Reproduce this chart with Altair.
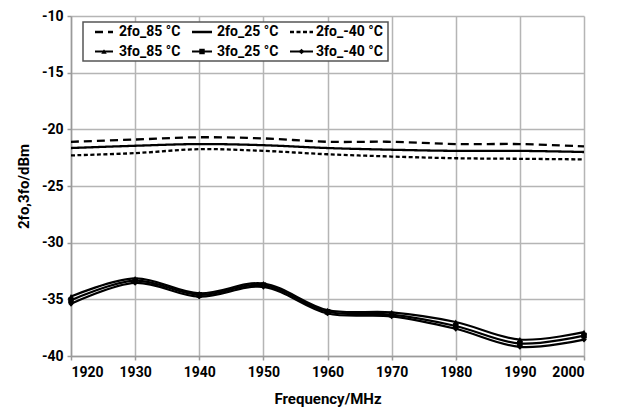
import altair as alt
import pandas as pd

freq = [1920, 1930, 1940, 1950, 1960, 1970, 1980, 1990, 2000]
s2_85 = [-21.1, -20.9, -20.7, -20.8, -21.1, -21.1, -21.3, -21.3, -21.5]
s2_25 = [-21.65, -21.45, -21.3, -21.4, -21.65, -21.8, -21.9, -21.9, -22.0]
s2_m40 = [-22.3, -22.1, -21.75, -21.9, -22.2, -22.4, -22.55, -22.6, -22.65]
s3_85 = [-34.75, -33.15, -34.47, -33.6, -35.95, -36.15, -37.0, -38.55, -37.9]
s3_25 = [-35.08, -33.35, -34.6, -33.75, -36.1, -36.35, -37.35, -38.9, -38.2]
s3_m40 = [-35.4, -33.55, -34.76, -33.9, -36.25, -36.5, -37.6, -39.2, -38.55]
names = ["2fo_85 °C", "2fo_25 °C", "2fo_-40 °C", "3fo_85 °C", "3fo_25 °C", "3fo_-40 °C"]
series = [s2_85, s2_25, s2_m40, s3_85, s3_25, s3_m40]
x_ticks = [1920, 1930, 1940, 1950, 1960, 1970, 1980, 1990, 2000]
y_ticks = [-40, -35, -30, -25, -20, -15, -10]

rows = []
for n, vals in zip(names, series):
    for f, v in zip(freq, vals):
        rows.append({"freq": f, "val": v, "series": n})
df = pd.DataFrame(rows)

FONT = "Roboto, Liberation Sans, sans-serif"
W, H = 513, 340

dashes = {names[0]: [8, 5], names[1]: [1, 0], names[2]: [4, 2.5]}
shapes = {names[3]: "triangle-up", names[4]: "square", names[5]: "diamond"}

xenc = alt.X("freq:Q", scale=alt.Scale(domain=[1920, 2000], nice=False),
             axis=alt.Axis(values=x_ticks, labelExpr="datum.value + ''", title="Frequency/MHz"))
yenc = alt.Y("val:Q", scale=alt.Scale(domain=[-40, -10], nice=False),
             axis=alt.Axis(values=y_ticks, labelExpr="datum.value + ''", title="2fo,3fo/dBm"))

base = alt.Chart(df)
lines2 = base.transform_filter(
    alt.FieldOneOfPredicate(field="series", oneOf=names[:3])
).mark_line(interpolate="catmull-rom", color="black", strokeWidth=2.3).encode(
    x=xenc, y=yenc,
    strokeDash=alt.StrokeDash("series:N", scale=alt.Scale(domain=names[:3], range=[dashes[n] for n in names[:3]]), legend=None),
    detail="series:N",
)
lines3 = base.transform_filter(
    alt.FieldOneOfPredicate(field="series", oneOf=names[3:])
).mark_line(interpolate="catmull-rom", color="black", strokeWidth=2.2).encode(
    x=xenc, y=yenc, detail="series:N",
)
pts3 = base.transform_filter(
    alt.FieldOneOfPredicate(field="series", oneOf=names[3:])
).mark_point(filled=True, color="black", size=32, opacity=1).encode(
    x=xenc, y=yenc,
    shape=alt.Shape("series:N", scale=alt.Scale(domain=names[3:], range=[shapes[n] for n in names[3:]]), legend=None),
)

one = pd.DataFrame({"a": [0]})
legend_layers = [
    alt.Chart(one).mark_rect(fill="white", stroke="#555555", strokeWidth=1.5).encode(
        x=alt.value(12), x2=alt.value(317), y=alt.value(6), y2=alt.value(45))
]
sym_x1 = [24, 121, 219]
sym_x2 = [42, 141, 242]
txt_x = [48, 146, 245]
row_y = [16, 35.5]
for i, n in enumerate(names):
    c, r = i % 3, i // 3
    if n in dashes:
        legend_layers.append(alt.Chart(one).mark_rule(color="black", strokeWidth=2.3, strokeDash=dashes[n]).encode(
            x=alt.value(sym_x1[c]), x2=alt.value(sym_x2[c]), y=alt.value(row_y[r])))
    else:
        legend_layers.append(alt.Chart(one).mark_rule(color="black", strokeWidth=2).encode(
            x=alt.value(sym_x1[c]), x2=alt.value(sym_x2[c]), y=alt.value(row_y[r])))
        legend_layers.append(alt.Chart(one).mark_point(filled=True, color="black", size=30, opacity=1, shape=shapes[n]).encode(
            x=alt.value((sym_x1[c] + sym_x2[c]) / 2), y=alt.value(row_y[r])))
    legend_layers.append(alt.Chart(one).mark_text(text=n, align="left", baseline="middle", font=FONT,
                                                  fontSize=14, fontWeight="bold", color="black").encode(
        x=alt.value(txt_x[c]), y=alt.value(row_y[r])))

chart = alt.layer(lines2, lines3, pts3, *legend_layers).properties(
    width=W, height=H,
    autosize=alt.AutoSizeParams(type="none"),
    padding={"left": 63, "top": 8, "right": 30, "bottom": 55},
).configure_view(stroke=None).configure_axis(
    grid=True, gridColor="#b5b5b5", gridWidth=1.5,
    domainColor="#9a9a9a", domainWidth=1.5,
    tickColor="#9a9a9a", tickSize=4, tickWidth=1.5,
    labelFont=FONT, labelFontSize=14, labelFontWeight="bold", labelColor="black",
    titleFont=FONT, titleFontSize=15, titleFontWeight="bold", titleColor="black",
).configure_axisY(labelPadding=4, titlePadding=10).configure_axisX(labelPadding=5, titlePadding=12)

chart.save("out.html", embed_options={"renderer": "svg", "actions": False})
